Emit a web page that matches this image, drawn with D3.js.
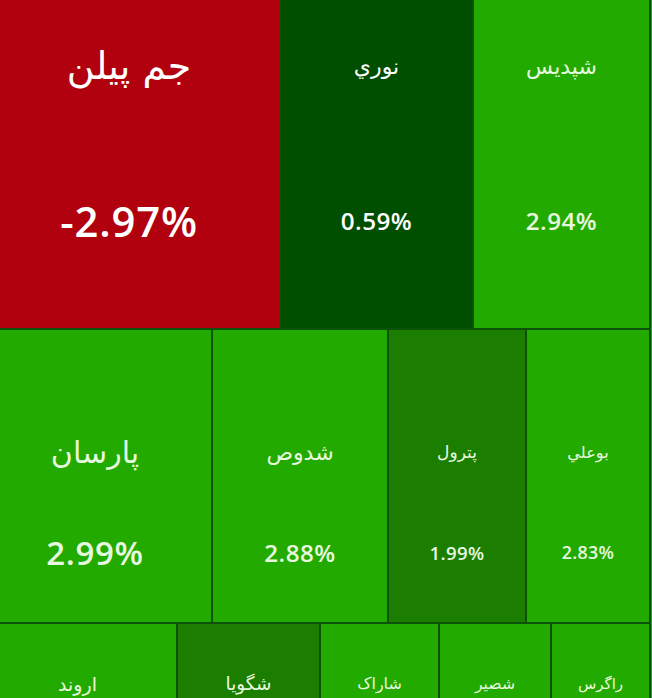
<!DOCTYPE html>
<html>
<head>
<meta charset="utf-8">
<script src="https://cdn.jsdelivr.net/npm/d3@7"></script>
<style>
  html, body { margin: 0; padding: 0; overflow: hidden; background: #22aa00; }
</style>
</head>
<body>
<div id="container"></div>
<script>
/* DATA */
// rows of the map, top to bottom; symbols left to right
const row1 = ["جم پیلن", "نوري", "شپدیس"];
const row2 = ["پارسان", "شدوص", "پترول", "بوعلي"];
const row3 = ["اروند", "شگویا", "شاراک", "شصیر", "راگرس"];

// size of each tile (market value, arbitrary units)
const size1 = [136.8, 87.4, 80.2];
const size2 = [68.8, 51.7, 40.6, 36.5];
const size3 = [28.9, 20.7, 17.3, 16.2, 14.4];

// daily change in percent
const change1 = [-2.97, 0.59, 2.94];
const change2 = [2.99, 2.88, 1.99, 2.83];
const change3 = [2.9, 1.6, 2.9, 2.9, 2.9];

/* CONSTANTS */
// the view is a crop of the full map: some of it lies off the left and top
const width = 672, height = 892;
const offset = { left: 22, top: 124 };

const rows = [
  { names: row1, sizes: size1, changes: change1 },
  { names: row2, sizes: size2, changes: change2 },
  { names: row3, sizes: size3, changes: change3 }
];

const root = d3.hierarchy({
  children: rows.map(r => ({
    children: r.names.map((n, j) => ({ name: n, value: r.sizes[j], change: r.changes[j] }))
  }))
}).sum(d => d.value || 0);

// rows stacked vertically, tiles side by side
d3.treemap()
  .size([width, height])
  .tile((node, x0, y0, x1, y1) => {
    if (node.depth === 0) d3.treemapSlice(node, x0, y0, x1, y1);
    else d3.treemapDice(node, x0, y0, x1, y1);
  })
  .round(true)(root);

// SCALES
const color = d3.scaleThreshold()
  .domain([0, 1, 2.5])
  .range(["#b1000e", "#004e00", "#1b7e00", "#23aa00"]);

const fontSize = d3.scaleLinear()
  .domain([98, 120, 138, 145, 176, 193, 234, 302])
  .range([15, 16, 17, 19, 22, 22, 30, 38])
  .clamp(true);

const side = d => Math.min(d.x1 - d.x0, d.y1 - d.y0);

// CREATE SVG ELEMENT
const svg = d3.select("#container")
  .append("svg")
  .attr("width", 652)
  .attr("height", 698)
  .style("display", "block");

const g = svg.append("g")
  .attr("transform", `translate(${-offset.left},${-offset.top})`);

const leaves = g.selectAll("g.tile")
  .data(root.leaves())
  .join("g")
  .attr("class", "tile")
  .attr("transform", d => `translate(${d.x0},${d.y0})`);

leaves.append("rect")
  .attr("width", d => d.x1 - d.x0)
  .attr("height", d => d.y1 - d.y0)
  .attr("fill", d => color(d.data.change))
  .attr("stroke", "#0c5208")
  .attr("stroke-width", 2);

leaves.append("text")
  .attr("x", d => (d.x1 - d.x0) / 2)
  .attr("y", d => (d.y1 - d.y0) * 0.42)
  .attr("text-anchor", "middle")
  .attr("dominant-baseline", "central")
  .attr("fill", d => d.data.change < 1 ? "#ffffff" : "#e6f8df")
  .style("font-family", "'DejaVu Sans', sans-serif")
  .style("font-size", d => fontSize(side(d)) + "px")
  .text(d => d.data.name);

leaves.append("text")
  .attr("x", d => (d.x1 - d.x0) / 2)
  .attr("y", d => (d.y1 - d.y0) * 0.76)
  .attr("text-anchor", "middle")
  .attr("dominant-baseline", "central")
  .attr("fill", d => d.data.change < 1 ? "#ffffff" : "#e6f8df")
  .style("font-family", "'Open Sans', sans-serif")
  .style("font-weight", 600)
  .style("letter-spacing", "0.02em")
  .style("font-size", d => fontSize(side(d)) * 1.1 + "px")
  .text(d => d.data.change.toFixed(2) + "%");
</script>
</body>
</html>
